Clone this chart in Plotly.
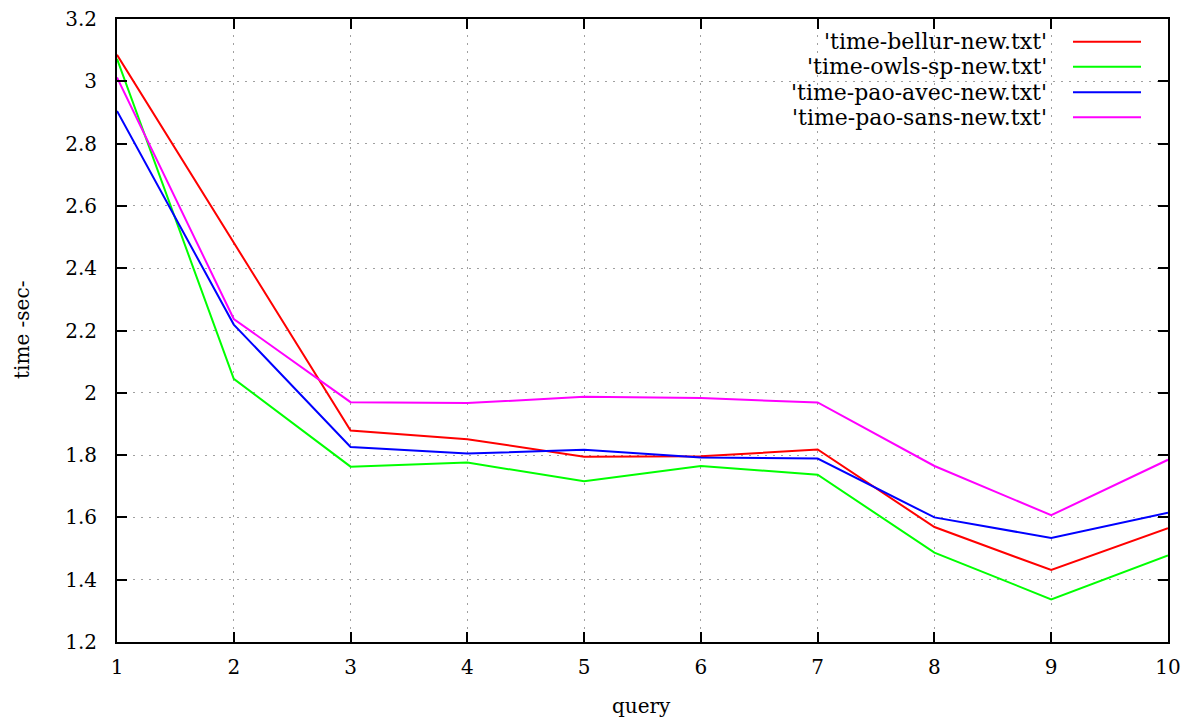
import plotly.graph_objects as go

queries = [1, 2, 3, 4, 5, 6, 7, 8, 9, 10]
bellur = [3.085, 2.48, 1.879, 1.851, 1.795, 1.796, 1.818, 1.569, 1.431, 1.565]
owls_sp = [3.072, 2.045, 1.763, 1.776, 1.716, 1.765, 1.737, 1.487, 1.337, 1.478]
pao_avec = [2.905, 2.219, 1.826, 1.805, 1.817, 1.792, 1.789, 1.600, 1.534, 1.615]
pao_sans = [3.012, 2.237, 1.970, 1.967, 1.987, 1.983, 1.969, 1.765, 1.607, 1.785]

series_names = ["'time-bellur-new.txt'", "'time-owls-sp-new.txt'",
                "'time-pao-avec-new.txt'", "'time-pao-sans-new.txt'"]
series_colors = ["#ff0000", "#00ff00", "#0000ff", "#ff00ff"]
series_values = [bellur, owls_sp, pao_avec, pao_sans]

y_tickvals = [1.2, 1.4, 1.6, 1.8, 2.0, 2.2, 2.4, 2.6, 2.8, 3.0, 3.2]
y_ticktext = ["1.2", "1.4", "1.6", "1.8", "2", "2.2", "2.4", "2.6", "2.8", "3", "3.2"]
x_tickvals = queries
x_ticktext = [str(q) for q in queries]

FONT = "DejaVu Serif"
FS = 20
FS_KEY = 22

fig = go.Figure()
for name, color, vals in zip(series_names, series_colors, series_values):
    fig.add_trace(go.Scatter(x=queries, y=vals, mode="lines", name=name,
                             line=dict(color=color, width=2), showlegend=False))

# gnuplot-style key: white box, right-aligned text, sample lines on the right
L, R, T, B = 117, 1168, 19, 642
W, H = R - L, B - T
def px(x):
    return (x - L) / W
def py(y):
    return 1 - (y - T) / H

shapes = [dict(type="rect", xref="paper", yref="paper", x0=px(735), x1=px(1166),
               y0=py(134), y1=py(21), fillcolor="white", line=dict(width=0),
               layer="between")]
annotations = []
row_y = [41.7, 66.7, 92.3, 117.3]
for name, color, ry in zip(series_names, series_colors, row_y):
    annotations.append(dict(xref="paper", yref="paper", x=px(1049), y=py(ry),
                            text=name, showarrow=False, xanchor="right", yanchor="middle",
                            font=dict(family=FONT, size=FS_KEY, color="black")))
    shapes.append(dict(type="line", xref="paper", yref="paper", x0=px(1073), x1=px(1141),
                       y0=py(ry), y1=py(ry), line=dict(color=color, width=2), layer="above"))

annotations.append(dict(xref="paper", yref="paper", x=px(22), y=py(330), text="time -sec-",
                        textangle=-90, showarrow=False, xanchor="center", yanchor="middle",
                        font=dict(family=FONT, size=FS, color="black")))
annotations.append(dict(xref="paper", yref="paper", x=px(641), y=py(706), text="query",
                        showarrow=False, xanchor="center", yanchor="middle",
                        font=dict(family=FONT, size=FS, color="black")))

axis_common = dict(showline=True, linecolor="black", linewidth=2, mirror="ticks",
                   ticks="inside", ticklen=10, tickwidth=2, tickcolor="black",
                   showgrid=True, gridcolor="#a0a0a0", gridwidth=1, griddash="2px,6px",
                   zeroline=False, automargin=False,
                   tickfont=dict(family=FONT, size=FS, color="black"))

fig.update_xaxes(range=[1, 10], tickvals=x_tickvals, ticktext=x_ticktext,
                 ticklabelstandoff=6, **axis_common)
fig.update_yaxes(range=[1.2, 3.2], tickvals=y_tickvals, ticktext=y_ticktext,
                 ticklabelstandoff=14, **axis_common)

fig.update_layout(width=1190, height=720, autosize=False,
                  margin=dict(l=L, r=1190 - R, t=T, b=720 - B, pad=0),
                  paper_bgcolor="white", plot_bgcolor="white",
                  shapes=shapes, annotations=annotations,
                  font=dict(family=FONT, size=FS, color="black"))

fig.write_html("out.html", config={"displayModeBar": False},
               post_script="document.body.style.margin='0';document.body.style.padding='0';"
                           "document.documentElement.style.overflow='hidden';")
